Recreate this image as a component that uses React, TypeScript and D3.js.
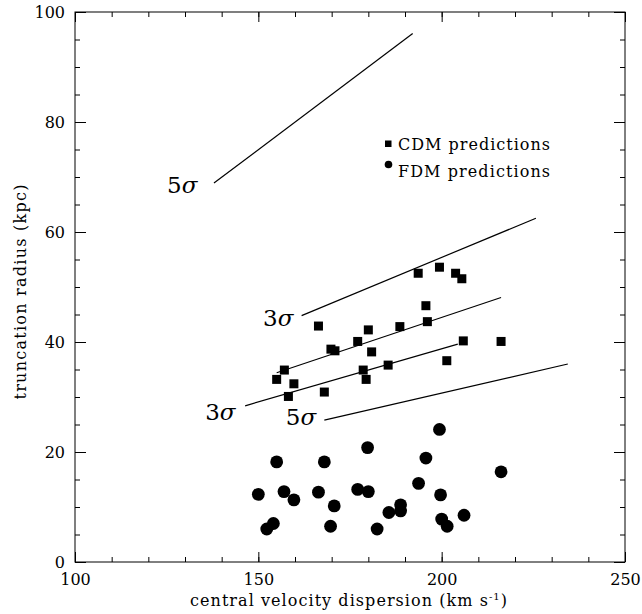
import { useEffect, useRef } from 'react';
import * as d3 from 'd3';

// CDM predictions (velocity dispersion km/s, truncation radius kpc)
const cdmSigma = [166.4, 180.0, 177.1, 169.8, 170.9, 180.9, 188.6, 157.1, 155.0, 159.7, 178.6, 179.4, 185.4, 158.2, 168.0, 193.6, 199.4, 203.8, 205.5, 195.7, 196.1, 205.9, 216.2, 201.4];
const cdmRadius = [42.9, 42.2, 40.1, 38.7, 38.4, 38.2, 42.8, 34.9, 33.2, 32.4, 34.9, 33.2, 35.8, 30.1, 30.9, 52.5, 53.6, 52.5, 51.5, 46.6, 43.7, 40.2, 40.1, 36.6];

// FDM predictions
const fdmSigma = [155.0, 168.0, 179.8, 150.0, 157.0, 159.7, 166.4, 170.7, 177.1, 180.0, 154.1, 152.3, 169.7, 199.4, 195.7, 216.2, 193.7, 199.7, 188.8, 188.8, 185.6, 206.1, 200.0, 201.5, 182.4];
const fdmRadius = [18.2, 18.2, 20.8, 12.3, 12.8, 11.3, 12.7, 10.2, 13.2, 12.8, 7.0, 6.0, 6.5, 24.1, 18.9, 16.4, 14.3, 12.2, 10.4, 9.3, 9.0, 8.5, 7.8, 6.5, 6.0];

// fit / confidence lines: [x0, y0, x1, y1]
const lines = [
  [137.9, 68.9, 192.1, 96.1],
  [161.8, 44.8, 225.7, 62.5],
  [155.0, 34.4, 216.2, 48.1],
  [146.4, 28.4, 204.4, 39.6],
  [168.0, 25.8, 234.4, 36.0],
];

const sigmaLabels = [
  { n: '5', x: 125.1, y: 67.1 },
  { n: '3', x: 151.3, y: 42.9 },
  { n: '3', x: 135.5, y: 25.8 },
  { n: '5', x: 157.5, y: 24.9 },
];

const xTicks = [100, 150, 200, 250];
const yTicks = [0, 20, 40, 60, 80, 100];

const width = 642;
const height = 614;
const marginLeft = 75;
const marginRight = 17;
const marginTop = 12;
const marginBottom = 52;
const font = 'DejaVu Serif';

export default function App() {
  const x = d3.scaleLinear().domain([100, 250]).range([marginLeft, width - marginRight]);
  const y = d3.scaleLinear().domain([0, 100]).range([height - marginBottom, marginTop]);

  const gxb = useRef(null);
  const gxt = useRef(null);
  const gyl = useRef(null);
  const gyr = useRef(null);

  useEffect(() => {
    const minorX = d3.range(100, 251, 10);
    const minorY = d3.range(0, 101, 5);
    const style = (g) => {
      g.select('.domain').remove();
      g.selectAll('line').attr('stroke', '#000');
    };
    const bx = d3.select(gxb.current);
    bx.selectAll('*').remove();
    bx.append('g').call(d3.axisBottom(x).tickValues(minorX).tickSize(-5).tickFormat(() => '')).call(style);
    bx.append('g').call(d3.axisBottom(x).tickValues(xTicks).tickSize(-10).tickPadding(12).tickFormat(d3.format('d'))).call(style)
      .selectAll('text').attr('font-family', font).attr('font-size', 16).attr('fill', '#000');

    const tx = d3.select(gxt.current);
    tx.selectAll('*').remove();
    tx.append('g').call(d3.axisTop(x).tickValues(minorX).tickSize(-5).tickFormat(() => '')).call(style);
    tx.append('g').call(d3.axisTop(x).tickValues(xTicks).tickSize(-10).tickFormat(() => '')).call(style);

    const ly = d3.select(gyl.current);
    ly.selectAll('*').remove();
    ly.append('g').call(d3.axisLeft(y).tickValues(minorY).tickSize(-5).tickFormat(() => '')).call(style);
    ly.append('g').call(d3.axisLeft(y).tickValues(yTicks).tickSize(-11).tickPadding(10).tickFormat(d3.format('d'))).call(style)
      .selectAll('text').attr('font-family', font).attr('font-size', 16).attr('fill', '#000');

    const ry = d3.select(gyr.current);
    ry.selectAll('*').remove();
    ry.append('g').call(d3.axisRight(y).tickValues(minorY).tickSize(-5).tickFormat(() => '')).call(style);
    ry.append('g').call(d3.axisRight(y).tickValues(yTicks).tickSize(-11).tickFormat(() => '')).call(style);
  }, []);

  const sq = 9;
  const r = 6.4;

  return (
    <svg width={width} height={height} style={{ position: 'absolute', left: 0, top: 0, background: '#fff' }}>
      <rect x={x(100)} y={y(100)} width={x(250) - x(100)} height={y(0) - y(100)} fill="none" stroke="#000" strokeWidth={1} />
      <g ref={gxb} transform={`translate(0,${y(0)})`} />
      <g ref={gxt} transform={`translate(0,${y(100)})`} />
      <g ref={gyl} transform={`translate(${x(100)},0)`} />
      <g ref={gyr} transform={`translate(${x(250)},0)`} />

      {lines.map((l, i) => (
        <line key={i} x1={x(l[0])} y1={y(l[1])} x2={x(l[2])} y2={y(l[3])} stroke="#000" strokeWidth={1.2} />
      ))}

      {cdmSigma.map((s, i) => (
        <rect key={'c' + i} x={x(s) - sq / 2} y={y(cdmRadius[i]) - sq / 2} width={sq} height={sq} fill="#000" />
      ))}
      {fdmSigma.map((s, i) => (
        <circle key={'f' + i} cx={x(s)} cy={y(fdmRadius[i])} r={r} fill="#000" />
      ))}

      {sigmaLabels.map((d, i) => (
        <text key={'s' + i} x={x(d.x)} y={y(d.y)} fontFamily={font} fontSize={23} fill="#000">
          {d.n}<tspan fontStyle="italic">σ</tspan>
        </text>
      ))}

      <rect x={385} y={140.5} width={6.5} height={6.5} fill="#000" />
      <text x={398} y={150} fontFamily={font} fontSize={16} textLength={152} lengthAdjust="spacing" fill="#000">CDM predictions</text>
      <circle cx={388.5} cy={164.5} r={3.8} fill="#000" />
      <text x={398} y={176.5} fontFamily={font} fontSize={16} textLength={152} lengthAdjust="spacing" fill="#000">FDM predictions</text>

      <text x={190} y={606} fontFamily={font} fontSize={16} textLength={317} lengthAdjust="spacing" fill="#000">
        central velocity dispersion (km s<tspan fontSize={10} dy={-6}>-1</tspan><tspan dy={6}>)</tspan>
      </text>
      <text transform={`translate(26,292) rotate(-90)`} textAnchor="middle" fontFamily={font} fontSize={16} textLength={215} lengthAdjust="spacing" fill="#000">
        truncation radius (kpc)
      </text>
    </svg>
  );
}
